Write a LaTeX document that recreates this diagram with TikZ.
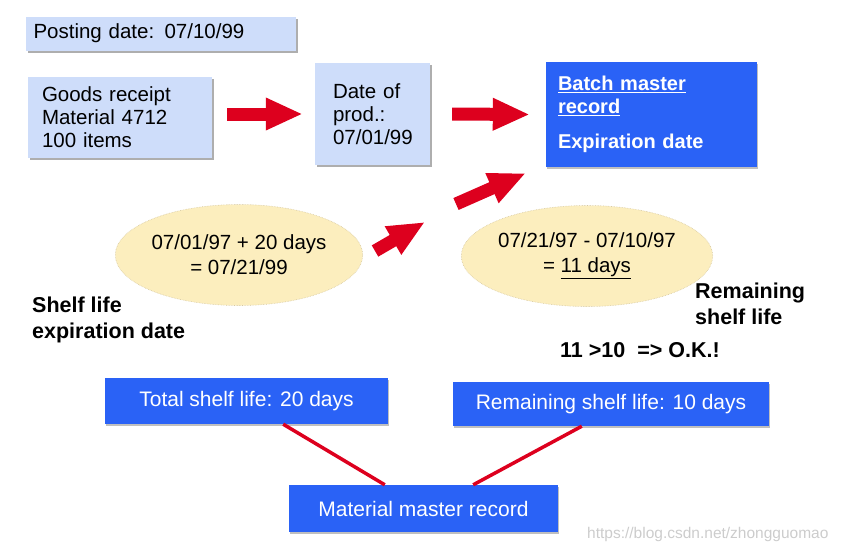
\documentclass[tikz,border=0pt]{standalone}
\usepackage{fontspec}
\setmainfont{Liberation Sans}
\usetikzlibrary{arrows.meta,shapes.geometric,shadows}

\definecolor{paleblue}{RGB}{206,221,250}
\definecolor{sapblue}{RGB}{42,98,246}
\definecolor{arrowred}{RGB}{221,0,30}
\definecolor{ovalfill}{RGB}{252,238,190}
\definecolor{ovaledge}{RGB}{214,200,160}

\begin{document}
\begin{tikzpicture}[x=1pt, y=-1pt,
    infobox/.style={rectangle, fill=paleblue, inner ysep=0pt, align=left,
        font=\fontsize{20.5}{23}\selectfont,
        drop shadow={shadow xshift=2pt, shadow yshift=-2pt, fill=black!45, opacity=.7}},
    bluebox/.style={rectangle, fill=sapblue, text=white, inner ysep=0pt,
        font=\fontsize{21}{23}\selectfont,
        drop shadow={shadow xshift=1pt, shadow yshift=-1.5pt, fill=black!50, opacity=.5}},
    calcoval/.style={ellipse, fill=ovalfill, draw=ovaledge, densely dotted, line width=0.6pt,
        minimum width=208pt, minimum height=101pt, inner sep=0pt, align=center,
        font=\fontsize{20.5}{25}\selectfont},
    bigarrow/.style={draw=arrowred, line width=13pt, -{Triangle[length=37pt,width=30pt]}},
    redline/.style={draw=arrowred, line width=3.5pt},
    labeltext/.style={inner sep=0pt, align=left, font=\bfseries\fontsize{21.5}{26}\selectfont}]

    \useasboundingbox (0,0) rectangle (842,550);

    % Draw the light boxes
    \node[infobox, minimum width=270pt, minimum height=34pt, inner xsep=8pt, text width=254pt] (posting) at (160.5,33.5) {Posting date: 07/10/99};
    \node[infobox, minimum height=81pt, inner xsep=14pt, text width=156pt] (goods) at (120,117.5) {Goods receipt\\Material 4712\\100 items};
    \node[infobox, minimum height=102pt, inner xsep=18pt, text width=79pt] (prod) at (372.5,114) {Date of\\prod.:\\07/01/99};

    % Batch record
    \node[bluebox, align=left, minimum height=105pt, inner xsep=12pt, text width=187pt,
        font=\bfseries\fontsize{20}{23}\selectfont] (batch) at (651.5,114.5)
        {\underline{Batch master}\\\underline{record}\\[12pt]Expiration date};

    % Calculations
    \node[calcoval] (calcexp) at (239,255) {07/01/97 + 20 days\\= 07/21/99};
    \node[calcoval] (calcrem) at (587,256) {07/21/97 - 07/10/97\\= \underline{11 days}};

    % Labels
    \node[labeltext, anchor=north west] (shelflbl) at (32,297) {Shelf life\\expiration date};
    \node[labeltext, anchor=north west] (remlbl) at (695,283) {Remaining\\shelf life};
    \node[labeltext, anchor=north west] (okay) at (560,342) {11 >10\ \ => O.K.!};

    % Material master boxes
    \node[bluebox, minimum width=283pt, minimum height=46pt] (total) at (246.5,401) {Total shelf life: 20 days};
    \node[bluebox, minimum width=316pt, minimum height=44pt] (remaining) at (611,404) {Remaining shelf life: 10 days};
    \node[bluebox, minimum width=269pt, minimum height=47pt] (material) at (423.5,508.5) {Material master record};

    % Red arrows
    \coordinate (gapstart) at (425,222);
    \coordinate (gapend) at (456,204);
    \draw[bigarrow] ([xshift=15pt]goods.east |- prod.west) -- ([xshift=-12pt]prod.west);
    \draw[bigarrow] ([xshift=22pt]prod.east) -- ([xshift=-16pt]batch.west);
    \draw[bigarrow] ([shift={(12,-4)}]calcexp.east) -- (gapstart);
    \draw[bigarrow] (gapend) -- ([shift={(-20,6)}]batch.south west);

    % Links to material master
    \draw[redline] ([xshift=-105pt]total.south east) -- ([xshift=96pt]material.north west);
    \draw[redline] ([xshift=129pt]remaining.south west) -- ([xshift=-85pt]material.north east);

    \node[anchor=base west, inner sep=0pt, text=black!20, font=\fontsize{15.5}{18}\selectfont] (watermark) at (587,538) {https://blog.csdn.net/zhongguomao};

\end{tikzpicture}
\end{document}
